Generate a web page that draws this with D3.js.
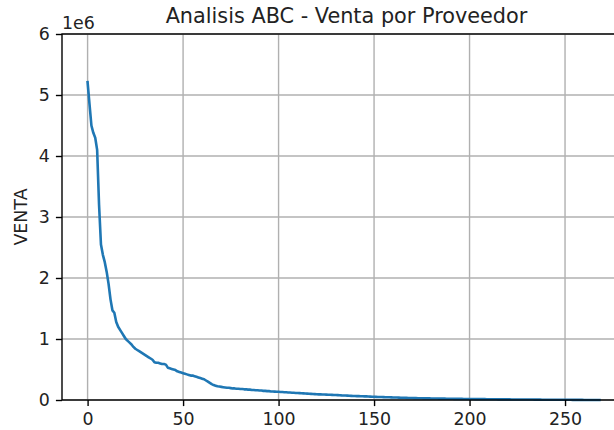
<!DOCTYPE html>
<html>
<head>
<meta charset="utf-8">
<script src="https://cdn.jsdelivr.net/npm/d3@7"></script>
<style>
  body { margin: 0; background: #fff; }
  svg { display: block; font-family: "DejaVu Sans", sans-serif; }
</style>
</head>
<body>
<svg id="chart" width="614" height="430"></svg>
<script>
// ventas por proveedor, ordenadas (en millones, eje "1e6")
const venta = [
  5.21, 4.85, 4.50, 4.38, 4.30, 4.10, 3.20, 2.55, 2.38, 2.26,
  2.10, 1.90, 1.65, 1.47, 1.43, 1.28, 1.20, 1.15, 1.10, 1.05,
  1.00, 0.97, 0.94, 0.91, 0.87, 0.84, 0.82, 0.80, 0.78, 0.76,
  0.74, 0.72, 0.70, 0.68, 0.66, 0.62, 0.61, 0.61, 0.60, 0.59,
  0.59, 0.58, 0.53, 0.52, 0.51, 0.50, 0.49, 0.47, 0.46, 0.45,
  0.44, 0.43, 0.42, 0.41, 0.40, 0.40, 0.39, 0.38, 0.37, 0.36,
  0.35, 0.34, 0.32, 0.30, 0.28, 0.26, 0.245, 0.235, 0.225, 0.22,
  0.215, 0.21, 0.205, 0.20, 0.20, 0.195, 0.19, 0.19, 0.185, 0.185,
  0.18, 0.18, 0.175, 0.175, 0.17, 0.17, 0.165, 0.165, 0.16, 0.16,
  0.155, 0.155, 0.15, 0.15, 0.145, 0.145, 0.14, 0.14, 0.138, 0.136,
  0.134, 0.132, 0.13, 0.128, 0.126, 0.124, 0.122, 0.12, 0.118, 0.116,
  0.114, 0.112, 0.11, 0.108, 0.106, 0.104, 0.102, 0.10, 0.098, 0.096,
  0.094, 0.093, 0.092, 0.091, 0.09, 0.088, 0.086, 0.085, 0.084, 0.083,
  0.082, 0.08, 0.078, 0.076, 0.075, 0.074, 0.072, 0.07, 0.068, 0.066,
  0.065, 0.064, 0.063, 0.062, 0.061, 0.06, 0.059, 0.058, 0.056, 0.054,
  0.053, 0.052, 0.05, 0.049, 0.048, 0.047, 0.046, 0.045, 0.044, 0.043,
  0.042, 0.041, 0.04, 0.039, 0.038, 0.037, 0.036, 0.035, 0.034, 0.033,
  0.032, 0.031, 0.03, 0.029, 0.028, 0.028, 0.027, 0.027, 0.026, 0.026,
  0.025, 0.025, 0.024, 0.024, 0.023, 0.023, 0.022, 0.022, 0.021, 0.021,
  0.020, 0.020, 0.019, 0.019, 0.018, 0.018, 0.018, 0.017, 0.017, 0.017,
  0.016, 0.016, 0.016, 0.015, 0.015, 0.015, 0.014, 0.014, 0.014, 0.013,
  0.013, 0.013, 0.012, 0.012, 0.012, 0.011, 0.011, 0.011, 0.010, 0.010,
  0.010, 0.010, 0.009, 0.009, 0.009, 0.009, 0.008, 0.008, 0.008, 0.008,
  0.007, 0.007, 0.007, 0.007, 0.006, 0.006, 0.006, 0.006, 0.005, 0.005,
  0.005, 0.005, 0.005, 0.004, 0.004, 0.004, 0.004, 0.004, 0.003, 0.003,
  0.003, 0.003, 0.003, 0.003, 0.002, 0.002, 0.002, 0.002, 0.002, 0.002,
  0.001, 0.001, 0.001, 0.001, 0.001, 0.001, 0.0005, 0.0003, 0.0001
]
const xTicks = [0, 50, 100, 150, 200, 250]
const yTicks = [0, 1, 2, 3, 4, 5, 6]
const titulo = 'Analisis ABC - Venta por Proveedor'
const etiquetaY = 'VENTA'
const escalaY = '1e6'

const svg = d3.select('#chart')
const lineColor = '#1f77b4'
const gridColor = '#b0b0b0'
const textColor = '#222'

// area del grafico (il bordo destro esce dall'immagine)
const plotLeft = 62, plotRight = 625, plotTop = 34, plotBottom = 400
const n = venta.length
const pad = (n - 1) * 0.05

const xScale = d3.scaleLinear()
  .domain([-pad, n - 1 + pad])
  .range([plotLeft, plotRight])

const yScale = d3.scaleLinear()
  .domain([0, 6])
  .range([plotBottom, plotTop])

// griglia
svg.append('g')
  .selectAll('line')
  .data(xTicks)
  .join('line')
  .attr('x1', d => xScale(d)).attr('x2', d => xScale(d))
  .attr('y1', plotTop).attr('y2', plotBottom)
  .attr('stroke', gridColor).attr('stroke-width', 1.4)

svg.append('g')
  .selectAll('line')
  .data(yTicks)
  .join('line')
  .attr('x1', plotLeft).attr('x2', plotRight)
  .attr('y1', d => yScale(d)).attr('y2', d => yScale(d))
  .attr('stroke', gridColor).attr('stroke-width', 1.4)

// linea
const line = d3.line()
  .x((d, i) => xScale(i))
  .y(d => yScale(d))

svg.append('path')
  .datum(venta)
  .attr('d', line)
  .attr('fill', 'none')
  .attr('stroke', lineColor)
  .attr('stroke-width', 2.6)
  .attr('stroke-linejoin', 'round')
  .attr('stroke-linecap', 'square')

// assi
svg.append('g')
  .attr('transform', `translate(0, ${plotBottom})`)
  .call(d3.axisBottom(xScale).tickValues(xTicks).tickFormat(d3.format('d'))
    .tickSize(6.1).tickPadding(6.1).tickSizeOuter(0))

svg.append('g')
  .attr('transform', `translate(${plotLeft}, 0)`)
  .call(d3.axisLeft(yScale).tickValues(yTicks).tickFormat(d3.format('d'))
    .tickSize(6.1).tickPadding(6.1).tickSizeOuter(0))

svg.selectAll('.tick line').attr('stroke', '#000').attr('stroke-width', 1.4)
svg.selectAll('.tick text')
  .attr('fill', textColor)
  .style('font-family', '"DejaVu Sans", sans-serif')
  .style('font-size', '17.4px')
svg.selectAll('path.domain').remove()

// cornice
svg.append('rect')
  .attr('x', plotLeft).attr('y', plotTop)
  .attr('width', plotRight - plotLeft).attr('height', plotBottom - plotTop)
  .attr('fill', 'none')
  .attr('stroke', '#000')
  .attr('stroke-width', 1.4)

// testi
svg.append('text')
  .attr('x', (plotLeft + plotRight) / 2 + 3)
  .attr('y', 23)
  .attr('text-anchor', 'middle')
  .attr('fill', textColor)
  .style('font-size', '20.8px')
  .text(titulo)

svg.append('text')
  .attr('x', plotLeft)
  .attr('y', 29)
  .attr('fill', textColor)
  .style('font-size', '17.4px')
  .text(escalaY)

svg.append('text')
  .attr('transform', `translate(27, ${(plotTop + plotBottom) / 2}) rotate(-90)`)
  .attr('text-anchor', 'middle')
  .attr('fill', textColor)
  .style('font-size', '17.4px')
  .text(etiquetaY)
</script>
</body>
</html>
